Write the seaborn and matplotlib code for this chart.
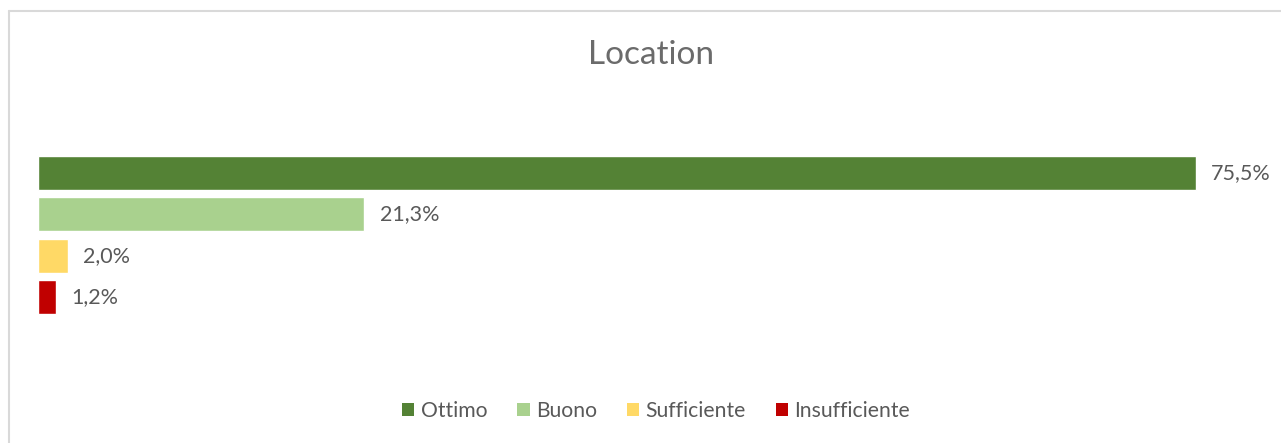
import matplotlib
matplotlib.use("Agg")
import matplotlib.pyplot as plt
import seaborn as sns
import pandas as pd
from matplotlib.lines import Line2D
from matplotlib.patches import Patch

categories = ["Ottimo", "Buono", "Sufficiente", "Insufficiente"]
values = [75.5, 21.3, 2.0, 1.2]
labels = ["75,5%", "21,3%", "2,0%", "1,2%"]
colors = ["#548235", "#A9D18E", "#FFD966", "#C00000"]
title = "Location"

sns.set_theme(style="white")
plt.rcParams["font.family"] = ["Lato", "DejaVu Sans"]

df = pd.DataFrame({"cat": categories, "val": values})

W, H = 1281, 443
fig = plt.figure(figsize=(W / 100, H / 100), dpi=100)
px = 15.34  # pixels per percent
xmax = 80
left = 37.5 / W
width = xmax * px / W
top_px = 173 - 0.5 * 41.3
bot_px = 297 + 0.5 * 41.3
ax = fig.add_axes([left, 1 - bot_px / H, width, (bot_px - top_px) / H])

sns.barplot(data=df, y="cat", x="val", hue="cat", palette=colors,
            order=categories, hue_order=categories, dodge=False,
            width=0.82, legend=False, ax=ax, saturation=1)
ax.set_xlim(0, xmax)
ax.set_ylim(3.5, -0.5)
for c, lab in zip(ax.containers, labels):
    ax.bar_label(c, labels=[lab], padding=11, fontsize=15.5, color="#595959")
ax.set_axis_off()

fig.text(651 / W, 1 - 55 / H, title, ha="center", va="center",
         fontsize=24, color="#6b6b6b")

handles = [Patch(facecolor=col, edgecolor="none") for col in colors]
fig.legend(handles, categories, loc="center", bbox_to_anchor=(656 / W, 1 - 411 / H),
           ncol=4, frameon=False, fontsize=15.2, handlelength=0.6, handleheight=0.6,
           handletextpad=0.3, columnspacing=1.4, labelcolor="#595959")

# chart border (top and left visible)
fig.add_artist(Line2D([8.5 / W, 1], [1 - 11 / H, 1 - 11 / H], color="#D9D9D9", lw=1.5))
fig.add_artist(Line2D([8.5 / W, 8.5 / W], [0, 1 - 11 / H], color="#D9D9D9", lw=1.5))

fig.savefig("out.png", dpi=100, facecolor="white")
